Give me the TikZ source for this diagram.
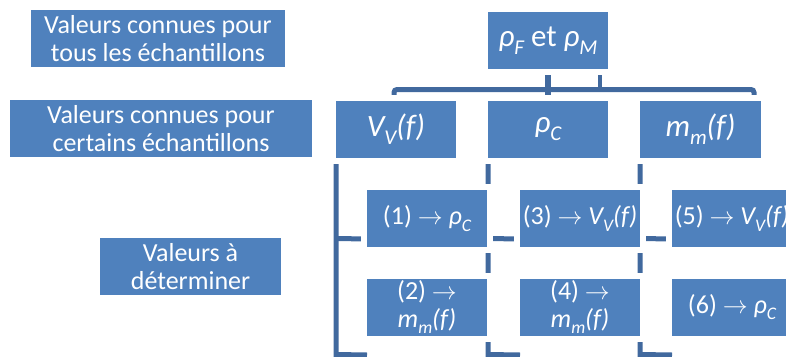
\documentclass[tikz,border=0pt]{standalone}
\usepackage{fontspec}
\setmainfont{Carlito}
\usetikzlibrary{calc}
\pgfdeclarelayer{bg}
\pgfsetlayers{bg,main}
\definecolor{boxblue}{HTML}{4F81BD}
\definecolor{linkblue}{HTML}{41699E}
\tikzset{
  box/.style={fill=boxblue, text=white, inner sep=0pt, outer sep=0pt, align=center,
    minimum width=120pt, minimum height=57pt,
    preaction={draw=white, line width=12pt},
    font=\fontsize{26}{28.5}\selectfont},
  bigtext/.style={font=\fontsize{31}{34}\selectfont},
  conn/.style={draw=linkblue, line width=5pt},
}
\newcommand\sbs[1]{\raisebox{-0.24em}{\scalebox{0.68}{#1}}}
\newcommand\arr{$\rightarrow$}
\begin{document}
\begin{tikzpicture}[x=1pt,y=-1pt]
\useasboundingbox (0,0) rectangle (786,356);
% left labels
\node[box, minimum width=254pt] (A) at (158,38.5) {Valeurs connues pour\\tous les échantillons};
\node[box, minimum width=302pt] (B) at (161,128.5) {Valeurs connues pour\\certains échantillons};
\node[box, minimum width=181pt] (C) at (190.5,266.5) {Valeurs à\\déterminer};
% hierarchy
\node[box, bigtext] (top) at (548,40.5) {\textit{ρ\sbs{F}} et \textit{ρ\sbs{M}}};
\node[box, bigtext] (vv) at (396,129) {\textit{V\sbs{V}(f)}};
\node[box, bigtext] (rc) at (548,129) {\textit{ρ\sbs{C}}};
\node[box, bigtext, minimum width=121pt] (mm) at (700.5,129) {\textit{m\sbs{m}(f)}};
\node[box] (b1) at (427,218.5) {(1) \arr{} \textit{ρ\sbs{C}}};
\node[box] (b2) at (427,307) {(2) \arr{}\\\textit{m\sbs{m}(f)}};
\node[box] (b3) at (580,218.5) {(3) \arr{} \textit{V\sbs{V}(f)}};
\node[box] (b4) at (580,307) {(4) \arr{}\\\textit{m\sbs{m}(f)}};
\node[box] (b5) at (732,218.5) {(5) \arr{} \textit{V\sbs{V}(f)}};
\node[box] (b6) at (732,307) {(6) \arr{} \textit{ρ\sbs{C}}};
\begin{pgfonlayer}{bg}
  \draw[conn, line width=6pt] (top.south) -- ++(0,26);
  \draw[conn, line width=4.5pt] ($(top.south)+(52,0)$) -- ++(0,20);
  \draw[conn, rounded corners=3pt] ($(vv.north)+(-2,-5)$) -- ($(vv.north)+(-2,-11)$)
     -- ($(mm.north)+(53.5,-11)$) -- ($(mm.north)+(53.5,-5)$);
  \foreach \p/\u/\d in {vv/b1/b2, rc/b3/b4, mm/b5/b6}{
    \draw[conn] (\p.south west) -- ($(\p.south west)+(0,197)$) -- ($(\d.west |- 0,355)$);
    \draw[conn] ($(\p.south west)+(0,81)$) -- ($(\u.west)+(0,20.5)$);
  }
\end{pgfonlayer}
\end{tikzpicture}
\end{document}
